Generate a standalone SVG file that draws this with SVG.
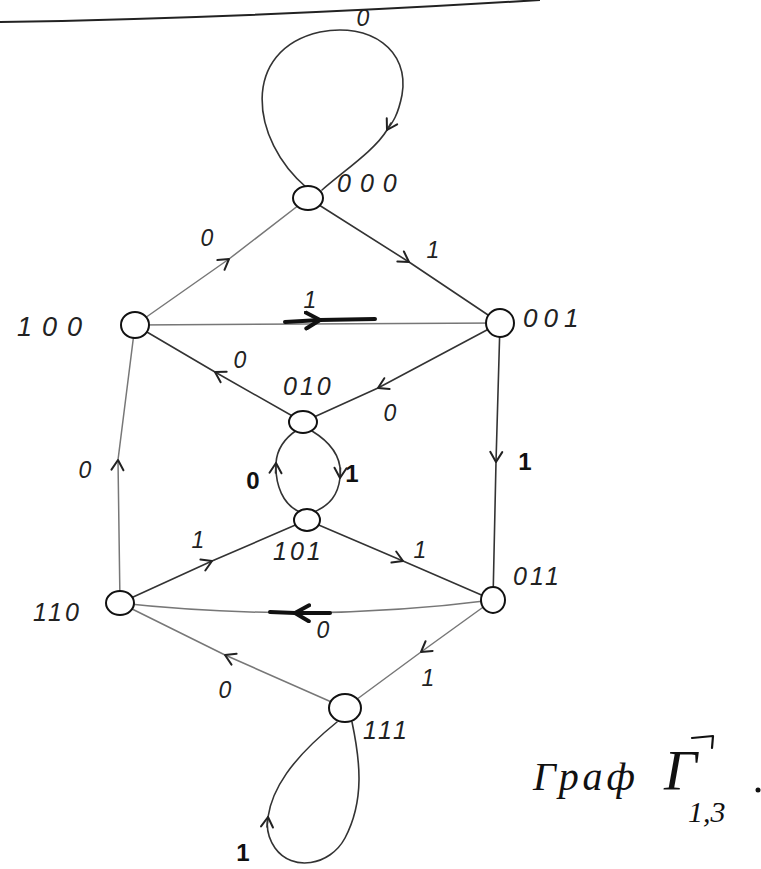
<svg xmlns="http://www.w3.org/2000/svg" width="761" height="869" viewBox="0 0 761 869">
<style>
.e{fill:none;stroke:#333;stroke-width:1.6;stroke-linecap:round}
.f{fill:none;stroke:#777;stroke-width:1.5;stroke-linecap:round}
.k{fill:none;stroke:#111;stroke-width:4;stroke-linecap:round}
.n{fill:#fff;stroke:#111;stroke-width:2}
.t{font-family:"Liberation Sans",Arial,sans-serif;font-style:italic;font-size:23px;fill:#222}
.l{font-size:25px;letter-spacing:3px}
.m{text-anchor:middle}
.u{font-family:"Liberation Sans",Arial,sans-serif;font-size:24px;fill:#111;font-weight:bold;text-anchor:middle}
.h{font-family:"Liberation Serif","Times New Roman",serif;font-style:italic;fill:#111}
</style>
<defs>
<marker id="a" viewBox="-12 -8 14 16" markerWidth="14" markerHeight="16" refX="0" refY="0" orient="auto" markerUnits="userSpaceOnUse">
<path d="M-10,-6 L0,0 L-10,6" fill="none" stroke="#222" stroke-width="2" stroke-linecap="round" stroke-linejoin="round"/>
</marker>
<marker id="b" viewBox="-16 -10 18 20" markerWidth="18" markerHeight="20" refX="0" refY="0" orient="auto" markerUnits="userSpaceOnUse">
<path d="M-14,-8 L0,0 L-14,8" fill="none" stroke="#111" stroke-width="4" stroke-linecap="round" stroke-linejoin="round"/>
</marker>
</defs>
<path d="M0,22 Q250,18 540,0" fill="none" stroke="#222" stroke-width="2"/>
<g id="connectors">
<path class="e" d="M307,188 C250,140 240,50 320,32 C370,22 410,50 402,95 C398,115 393,122 387,130 C375,150 345,170 322,190"/>
<path class="e" marker-end="url(#a)" d="M391,123 L387,130"/>
<path class="f" marker-mid="url(#a)" d="M135,325 L229,259 L308,198"/>
<path class="e" marker-mid="url(#a)" d="M308,198 L409,262 L500,323"/>
<path class="f" d="M135,325 L500,323"/>
<path class="k" marker-mid="url(#b)" d="M285,322 L320,320 L375,319"/>
<path class="e" marker-mid="url(#a)" d="M303,422 L215,372 L135,325"/>
<path class="e" marker-mid="url(#a)" d="M500,323 L378,388 L303,422"/>
<path class="e" marker-mid="url(#a)" d="M500,323 L496,462 L493,600"/>
<path class="e" d="M312,431 C335,445 342,462 340,478 C338,495 330,505 314,512"/>
<path class="e" marker-end="url(#a)" d="M340.5,468 L340,478"/>
<path class="e" d="M300,512 C283,505 275,485 276,463 C277,448 285,438 297,430"/>
<path class="e" marker-end="url(#a)" d="M275.5,473 L276,463"/>
<path class="f" marker-mid="url(#a)" d="M120,603 L118,460 L135,325"/>
<path class="e" marker-mid="url(#a)" d="M120,603 L212,561 L307,520"/>
<path class="e" marker-mid="url(#a)" d="M307,520 L403,561 L493,600"/>
<path class="f" d="M493,600 Q400,612 300,613 Q200,612 120,603"/>
<path class="k" marker-mid="url(#b)" d="M330,613 L295,613 L270,612"/>
<path class="f" marker-mid="url(#a)" d="M345,708 L225,655 L120,603"/>
<path class="f" marker-mid="url(#a)" d="M493,600 L421,652 L345,708"/>
<path class="e" d="M352,722 C360,760 365,800 345,838 C330,866 292,872 275,848 C268,838 266,828 268,817 C272,790 290,760 337,722"/>
<path class="e" marker-end="url(#a)" d="M267,827 L268,817"/>
</g>
<g id="n000"><ellipse class="n" cx="308" cy="198" rx="15" ry="12"/><text class="t l" x="337" y="192" style="letter-spacing:9px">000</text></g>
<g id="n100"><ellipse class="n" cx="135" cy="325" rx="14" ry="13"/><text class="t l" x="17" y="336" style="font-size:27px;letter-spacing:10px">100</text></g>
<g id="n001"><ellipse class="n" cx="500" cy="323" rx="14" ry="14"/><text class="t l" x="523" y="327" style="font-size:26px;letter-spacing:6px">001</text></g>
<g id="n010"><ellipse class="n" cx="303" cy="422" rx="14" ry="11"/><text class="t l" x="283" y="395">010</text></g>
<g id="n101"><ellipse class="n" cx="307" cy="520" rx="13" ry="11"/><text class="t l" x="273" y="560">101</text></g>
<g id="n110"><ellipse class="n" cx="120" cy="603" rx="14" ry="12"/><text class="t l" x="33" y="621">110</text></g>
<g id="n011"><ellipse class="n" cx="493" cy="600" rx="12" ry="13"/><text class="t l" x="513" y="585">011</text></g>
<g id="n111"><ellipse class="n" cx="345" cy="708" rx="16" ry="14"/><text class="t l" x="363" y="739">111</text></g>
<g id="labels">
<text class="t m" x="363" y="26">0</text>
<text class="t m" x="207" y="246">0</text>
<text class="t m" x="433" y="258">1</text>
<text class="t m" x="310" y="308">1</text>
<text class="t m" x="240" y="368">0</text>
<text class="t m" x="390" y="421">0</text>
<text class="u" x="253" y="489">0</text>
<text class="u" x="352" y="482">1</text>
<text class="u" x="525" y="470">1</text>
<text class="t m" x="85" y="478">0</text>
<text class="t m" x="198" y="548">1</text>
<text class="t m" x="420" y="558">1</text>
<text class="t m" x="323" y="638">0</text>
<text class="t m" x="428" y="686">1</text>
<text class="t m" x="225" y="698">0</text>
<text class="u" x="243" y="861" font-size="28">1</text>
</g>
<g id="caption">
<text class="h" x="533" y="790" font-size="40" textLength="102">Граф</text>
<text class="h" x="664" y="790" font-size="58">Γ</text>
<path d="M692,738 L713,736 L712,748" fill="none" stroke="#111" stroke-width="2.2" stroke-linecap="round" stroke-linejoin="round"/>
<text class="h" x="688" y="822" font-size="30">1,3</text>
<circle cx="758" cy="790" r="2.5" fill="#111"/>
</g>
</svg>
